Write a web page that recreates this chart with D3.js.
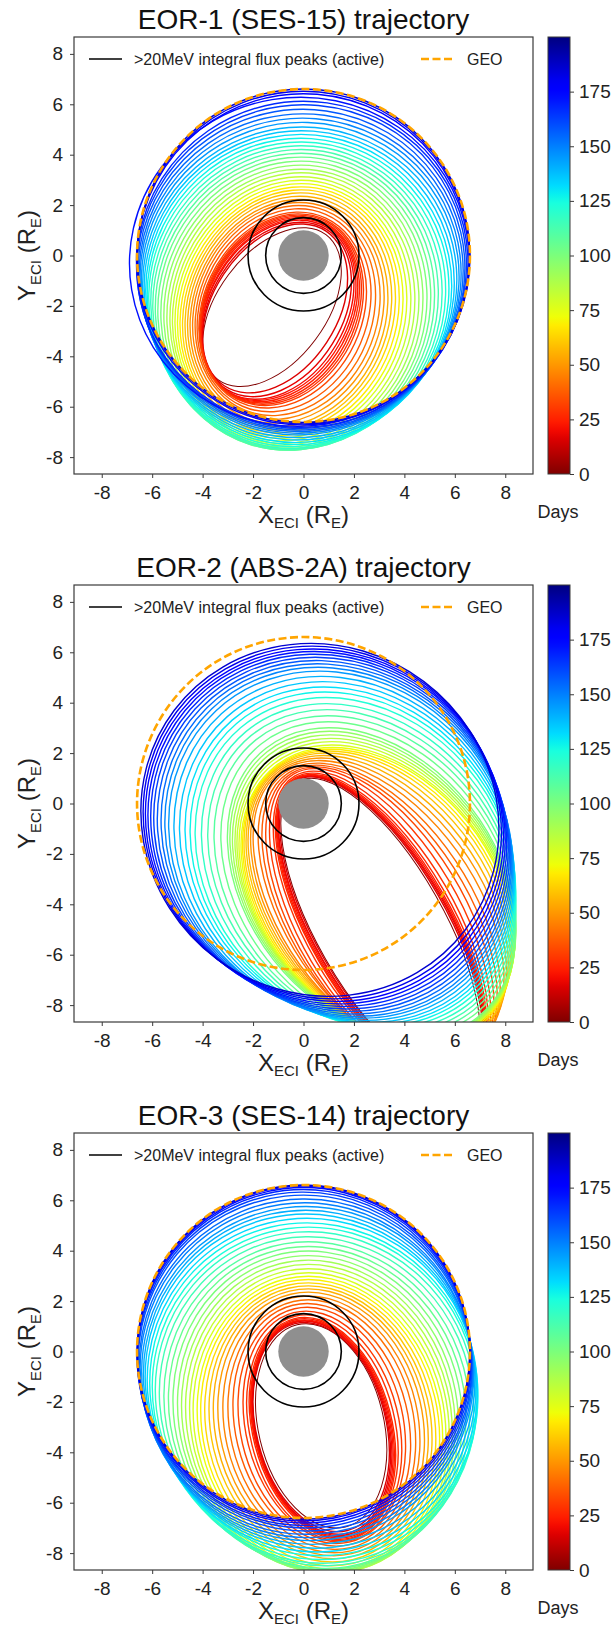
<!DOCTYPE html>
<html>
<head>
<meta charset="utf-8">
<script src="https://cdn.jsdelivr.net/npm/d3@7"></script>
<style>
  body { margin: 0; background: #fff; }
  svg { display: block; font-family: "Liberation Sans", Arial, sans-serif; }
</style>
</head>
<body>
<div class="card"></div>
<script>
// axis ticks (Earth radii) and colorbar ticks (days)
var axisTicks = [-8, -6, -4, -2, 0, 2, 4, 6, 8];
var dayTicks = [0, 25, 50, 75, 100, 125, 150, 175];
var dayMax = 200;
var geoRadius = 6.6;
var earthRadius = 1;
var fluxPeakRadii = [1.5, 2.2];
var titles = ["EOR-1 (SES-15) trajectory", "EOR-2 (ABS-2A) trajectory", "EOR-3 (SES-14) trajectory"];

// one row per orbit loop: [day, xMin, xMax, yMin, yMax, x at top of loop]  (R_E)
var eor1Orbits = [
  [0, -4.0, 1.5, -5.2, 1.1, 0.0], [16, -4.0, 1.75, -5.45, 1.25, -0.1], [18, -4.02, 1.9, -5.6, 1.32, -0.12],
  [20, -4.05, 2.0, -5.7, 1.4, -0.15], [22, -4.05, 2.08, -5.75, 1.45, -0.15], [24, -4.08, 2.15, -5.8, 1.5, -0.18],
  [26, -4.08, 2.22, -5.85, 1.55, -0.2], [28, -4.1, 2.3, -5.9, 1.6, -0.2], [30, -4.12, 2.38, -5.95, 1.65, -0.2],
  [33, -4.15, 2.5, -6.05, 1.72, -0.2], [37, -4.22, 2.68, -6.2, 1.85, -0.2], [41, -4.3, 2.86, -6.35, 1.98, -0.2],
  [46, -4.4, 3.04, -6.5, 2.1, -0.18], [50, -4.5, 3.2, -6.65, 2.22, -0.15], [55, -4.6, 3.35, -6.8, 2.35, -0.15],
  [59, -4.7, 3.5, -6.92, 2.48, -0.12], [64, -4.8, 3.65, -7.03, 2.6, -0.1], [68, -4.9, 3.8, -7.15, 2.72, -0.1],
  [73, -5.0, 3.95, -7.25, 2.85, -0.1], [77, -5.1, 4.1, -7.35, 2.98, -0.1], [82, -5.2, 4.26, -7.45, 3.12, -0.1],
  [86, -5.3, 4.42, -7.52, 3.28, -0.1], [91, -5.42, 4.58, -7.6, 3.42, -0.1], [95, -5.54, 4.74, -7.66, 3.58, -0.1],
  [100, -5.66, 4.9, -7.7, 3.74, -0.1], [104, -5.78, 5.05, -7.72, 3.9, -0.1], [109, -5.88, 5.2, -7.72, 4.05, -0.1],
  [113, -5.98, 5.35, -7.7, 4.2, -0.1], [118, -6.06, 5.5, -7.65, 4.35, -0.1], [122, -6.14, 5.64, -7.58, 4.5, -0.1],
  [127, -6.2, 5.77, -7.5, 4.65, -0.1], [131, -6.26, 5.88, -7.42, 4.8, -0.1], [136, -6.32, 5.98, -7.32, 4.95, -0.08],
  [140, -6.38, 6.08, -7.22, 5.1, -0.06], [145, -6.43, 6.17, -7.12, 5.28, -0.05], [149, -6.48, 6.25, -7.05, 5.45, -0.04],
  [154, -6.52, 6.33, -6.98, 5.62, -0.03], [158, -6.56, 6.4, -6.92, 5.8, -0.02], [163, -6.6, 6.46, -6.86, 5.98, 0.0],
  [167, -6.62, 6.52, -6.82, 6.12, 0.0], [172, -6.9, 6.56, -6.78, 6.28, -0.1], [176, -6.62, 6.58, -6.72, 6.42, 0.0],
  [181, -6.6, 6.6, -6.68, 6.52, 0.0], [186, -6.6, 6.6, -6.62, 6.6, 0.0]
];

var eor2Orbits = [
  [0, -0.9, 7.0, -10.8, 1.0, 0.3], [16, -0.95, 7.1, -10.85, 1.05, 0.3], [18, -1.0, 7.15, -10.9, 1.08, 0.3],
  [20, -1.02, 7.18, -10.9, 1.1, 0.3], [22, -1.05, 7.2, -10.9, 1.12, 0.32], [24, -1.08, 7.22, -10.9, 1.15, 0.34],
  [26, -1.12, 7.26, -10.85, 1.2, 0.36], [28, -1.2, 7.32, -10.8, 1.28, 0.4], [30, -1.35, 7.42, -10.7, 1.38, 0.45],
  [33, -1.5, 7.55, -10.55, 1.45, 0.5], [37, -1.65, 7.68, -10.4, 1.52, 0.52], [41, -1.8, 7.8, -10.2, 1.6, 0.55],
  [46, -2.0, 7.95, -10.0, 1.7, 0.6], [50, -2.1, 8.05, -9.85, 1.8, 0.7], [55, -2.2, 8.12, -9.7, 1.9, 0.8],
  [59, -2.28, 8.2, -9.6, 2.0, 0.9], [64, -2.36, 8.26, -9.5, 2.08, 1.0], [68, -2.42, 8.3, -9.45, 2.15, 1.08],
  [73, -2.48, 8.35, -9.4, 2.22, 1.15], [77, -2.56, 8.37, -9.38, 2.32, 1.12], [82, -2.64, 8.39, -9.36, 2.45, 1.1],
  [86, -2.72, 8.4, -9.34, 2.58, 1.08], [91, -2.82, 8.41, -9.32, 2.72, 1.05], [95, -2.92, 8.42, -9.31, 2.86, 1.02],
  [100, -3.02, 8.42, -9.3, 3.0, 1.0], [104, -3.28, 8.42, -9.22, 3.24, 0.98], [109, -3.55, 8.42, -9.14, 3.48, 0.96],
  [113, -3.8, 8.42, -9.06, 3.72, 0.94], [118, -4.05, 8.42, -8.98, 3.96, 0.92], [122, -4.3, 8.42, -8.9, 4.2, 0.9],
  [127, -4.5, 8.4, -8.82, 4.42, 0.86], [131, -4.7, 8.38, -8.75, 4.62, 0.82], [136, -4.92, 8.36, -8.68, 4.83, 0.77],
  [140, -5.14, 8.33, -8.6, 5.04, 0.71], [145, -5.35, 8.3, -8.52, 5.25, 0.65], [149, -5.5, 8.26, -8.44, 5.4, 0.6],
  [154, -5.65, 8.22, -8.35, 5.54, 0.56], [158, -5.8, 8.17, -8.25, 5.67, 0.52], [163, -5.94, 8.12, -8.15, 5.8, 0.48],
  [167, -6.06, 8.06, -8.05, 5.92, 0.45], [172, -6.17, 8.0, -7.95, 6.03, 0.42], [176, -6.27, 7.93, -7.85, 6.13, 0.38],
  [181, -6.36, 7.85, -7.75, 6.24, 0.34], [186, -6.45, 7.75, -7.65, 6.35, 0.3]
];

var eor3Orbits = [
  [0, -1.9, 3.3, -7.0, 1.1, 0.1], [16, -2.0, 3.4, -7.15, 1.15, 0.05], [18, -2.02, 3.45, -7.25, 1.2, 0.05],
  [20, -2.05, 3.5, -7.3, 1.22, 0.05], [22, -2.08, 3.55, -7.35, 1.25, 0.05], [24, -2.1, 3.6, -7.4, 1.3, 0.05],
  [26, -2.15, 3.65, -7.45, 1.35, 0.05], [28, -2.25, 3.75, -7.5, 1.45, 0.1], [30, -2.4, 3.9, -7.55, 1.6, 0.1],
  [33, -2.6, 4.05, -7.62, 1.75, 0.15], [37, -2.8, 4.25, -7.72, 1.9, 0.15], [42, -3.0, 4.45, -7.85, 2.05, 0.2],
  [46, -3.2, 4.62, -7.98, 2.2, 0.2], [51, -3.4, 4.8, -8.1, 2.35, 0.2], [55, -3.58, 4.95, -8.22, 2.48, 0.2],
  [60, -3.75, 5.1, -8.35, 2.6, 0.2], [64, -3.92, 5.25, -8.5, 2.72, 0.2], [69, -4.08, 5.4, -8.62, 2.85, 0.2],
  [73, -4.22, 5.52, -8.7, 2.98, 0.2], [78, -4.38, 5.65, -8.76, 3.12, 0.2], [82, -4.52, 5.78, -8.8, 3.28, 0.2],
  [87, -4.68, 5.9, -8.8, 3.45, 0.2], [91, -4.84, 6.02, -8.78, 3.62, 0.2], [96, -5.0, 6.15, -8.75, 3.8, 0.2],
  [100, -5.18, 6.3, -8.7, 3.98, 0.2], [105, -5.36, 6.45, -8.65, 4.16, 0.2], [109, -5.54, 6.6, -8.6, 4.35, 0.2],
  [114, -5.72, 6.75, -8.5, 4.55, 0.2], [118, -5.88, 6.85, -8.4, 4.75, 0.2], [123, -6.0, 6.9, -8.25, 4.93, 0.2],
  [127, -6.1, 6.92, -8.1, 5.1, 0.15], [132, -6.2, 6.9, -7.95, 5.28, 0.15], [136, -6.28, 6.85, -7.8, 5.45, 0.1],
  [141, -6.35, 6.8, -7.65, 5.6, 0.1], [145, -6.42, 6.75, -7.5, 5.75, 0.1], [150, -6.48, 6.72, -7.38, 5.9, 0.05],
  [154, -6.52, 6.7, -7.25, 6.05, 0.05], [159, -6.56, 6.68, -7.12, 6.2, 0.0], [163, -6.58, 6.66, -7.0, 6.32, 0.0],
  [168, -6.6, 6.64, -6.9, 6.42, 0.0], [173, -6.6, 6.62, -6.8, 6.5, 0.0], [179, -6.6, 6.6, -6.72, 6.56, 0.0],
  [186, -6.6, 6.6, -6.65, 6.6, 0.0]
];

var panels = [eor1Orbits, eor2Orbits, eor3Orbits];

// matplotlib "jet", reversed so day 0 is dark red
var jetR = d3.scaleLinear().domain([0, 0.35, 0.66, 0.89, 1]).range([0, 0, 1, 1, 0.5]).clamp(true);
var jetG = d3.scaleLinear().domain([0, 0.125, 0.375, 0.64, 0.91, 1]).range([0, 0, 1, 1, 0, 0]).clamp(true);
var jetB = d3.scaleLinear().domain([0, 0.11, 0.34, 0.65, 1]).range([0.5, 1, 1, 0, 0]).clamp(true);
function jet(t) { return d3.rgb(jetR(t) * 255, jetG(t) * 255, jetB(t) * 255).formatHex(); }
function dayColor(d) { return jet(1 - d / dayMax); }

// bounding box + x of the top point -> rotated ellipse
function toEllipse(o) {
  var W = (o[2] - o[1]) / 2, H = (o[4] - o[3]) / 2;
  var cx = (o[1] + o[2]) / 2, cy = (o[3] + o[4]) / 2, k = o[5] - cx;
  var s = W * W + H * H, dx = W * W - H * H, dy = 2 * k * H;
  var D = Math.hypot(dx, dy);
  return {
    day: o[0], cx: cx, cy: cy,
    a: Math.sqrt((s + D) / 2), b: Math.sqrt(Math.max((s - D) / 2, 0.0001)),
    angle: 0.5 * Math.atan2(dy, dx) * 180 / Math.PI
  };
}

var margin = {left: 74, top: 37};
var plotW = 459, plotH = 437, panelStep = 548;

var svg = d3.select('.card').append('svg')
  .attr('width', 616).attr('height', 1627);

var defs = svg.append('defs');
var grad = defs.append('linearGradient').attr('id', 'jetGrad')
  .attr('x1', 0).attr('y1', 1).attr('x2', 0).attr('y2', 0);
d3.range(0, 1.0001, 0.02).forEach(function(t) {
  grad.append('stop').attr('offset', t).attr('stop-color', jet(1 - t));
});

panels.forEach(function(orbits, i) {
  var top = margin.top + i * panelStep;
  var bottom = top + plotH;
  var x = d3.scaleLinear().domain([-9.1, 9.1]).range([margin.left, margin.left + plotW]);
  var y = d3.scaleLinear().domain([-8.67, 8.67]).range([bottom, top]);
  var g = svg.append('g');

  defs.append('clipPath').attr('id', 'clip' + i)
    .append('rect').attr('x', margin.left).attr('y', top).attr('width', plotW).attr('height', plotH);

  var plot = g.append('g').attr('clip-path', 'url(#clip' + i + ')');

  plot.selectAll('.orbit')
    .data(orbits.map(toEllipse))
    .enter()
    .append('ellipse')
    .attr('class', 'orbit')
    .attr('cx', d => x(d.cx))
    .attr('cy', d => y(d.cy))
    .attr('rx', d => x(d.a) - x(0))
    .attr('ry', d => y(0) - y(d.b))
    .attr('transform', d => `rotate(${-d.angle}, ${x(d.cx)}, ${y(d.cy)})`)
    .style('fill', 'none')
    .style('stroke', d => dayColor(d.day))
    .style('stroke-width', d => d.day === 0 ? 1 : 1.4);

  plot.append('circle')
    .attr('cx', x(0)).attr('cy', y(0)).attr('r', x(earthRadius) - x(0))
    .style('fill', '#8f8f8f');

  plot.selectAll('.peak')
    .data(fluxPeakRadii)
    .enter()
    .append('circle')
    .attr('cx', x(0)).attr('cy', y(0)).attr('r', d => x(d) - x(0))
    .style('fill', 'none').style('stroke', '#000').style('stroke-width', 1.6);

  plot.append('circle')
    .attr('cx', x(0)).attr('cy', y(0)).attr('r', x(geoRadius) - x(0))
    .style('fill', 'none').style('stroke', 'orange').style('stroke-width', 2.6)
    .style('stroke-dasharray', '8,3.5');

  // frame
  g.append('rect')
    .attr('x', margin.left).attr('y', top).attr('width', plotW).attr('height', plotH)
    .style('fill', 'none').style('stroke', '#3a3a3a').style('stroke-width', 1.2);

  var xAxis = d3.axisBottom(x).tickValues(axisTicks).tickSize(4).tickPadding(8).tickFormat(d => String(d));
  var yAxis = d3.axisLeft(y).tickValues(axisTicks).tickSize(4).tickPadding(7).tickFormat(d => String(d));
  g.append('g').attr('class', 'xAxis').attr('transform', `translate(0, ${bottom})`).call(xAxis);
  g.append('g').attr('class', 'yAxis').attr('transform', `translate(${margin.left}, 0)`).call(yAxis);

  // legend
  var ly = top + 22;
  g.append('line').attr('x1', 89).attr('x2', 122).attr('y1', ly).attr('y2', ly)
    .style('stroke', '#000').style('stroke-width', 1.6);
  g.append('text').attr('x', 134).attr('y', ly).attr('dy', '0.35em')
    .style('font-size', '16px').style('fill', '#222').text('>20MeV integral flux peaks (active)');
  g.append('line').attr('x1', 421).attr('x2', 454).attr('y1', ly).attr('y2', ly)
    .style('stroke', 'orange').style('stroke-width', 2.6).style('stroke-dasharray', '8,3.5');
  g.append('text').attr('x', 467).attr('y', ly).attr('dy', '0.35em')
    .style('font-size', '16px').style('fill', '#222').text('GEO');

  // title
  g.append('text').attr('x', x(0)).attr('y', top - 8).attr('text-anchor', 'middle')
    .style('font-size', '28px').style('fill', '#111').text(titles[i]);

  // axis labels
  var xl = g.append('text').attr('x', x(0)).attr('y', bottom + 49).attr('text-anchor', 'middle')
    .style('font-size', '24px').style('fill', '#222');
  xl.append('tspan').text('X');
  xl.append('tspan').attr('dy', 5).style('font-size', '15px').text('ECI');
  xl.append('tspan').attr('dy', -5).text(' (R');
  xl.append('tspan').attr('dy', 5).style('font-size', '15px').text('E');
  xl.append('tspan').attr('dy', -5).text(')');

  var yl = g.append('text').attr('transform', `translate(35, ${y(0)}) rotate(-90)`).attr('text-anchor', 'middle')
    .style('font-size', '24px').style('fill', '#222');
  yl.append('tspan').text('Y');
  yl.append('tspan').attr('dy', 6).style('font-size', '15px').text('ECI');
  yl.append('tspan').attr('dy', -6).text(' (R');
  yl.append('tspan').attr('dy', 6).style('font-size', '15px').text('E');
  yl.append('tspan').attr('dy', -6).text(')');

  // colorbar
  var dayScale = d3.scaleLinear().domain([0, dayMax]).range([bottom, top]);
  g.append('rect').attr('x', 548).attr('y', top).attr('width', 22).attr('height', plotH)
    .style('fill', 'url(#jetGrad)').style('stroke', '#3a3a3a').style('stroke-width', 1);
  var cAxis = d3.axisRight(dayScale).tickValues(dayTicks).tickSize(4).tickPadding(5);
  g.append('g').attr('class', 'cAxis').attr('transform', 'translate(570, 0)').call(cAxis);
  g.append('text').attr('x', 558).attr('y', bottom + 44).attr('text-anchor', 'middle')
    .style('font-size', '18px').style('fill', '#222').text('Days');

  g.selectAll('.domain').remove();
  g.selectAll('.tick line').style('stroke', '#3a3a3a');
  g.selectAll('.tick text').style('font-size', '19px').style('fill', '#222')
    .style('font-family', '"Liberation Sans", Arial, sans-serif');
});
</script>
</body>
</html>
